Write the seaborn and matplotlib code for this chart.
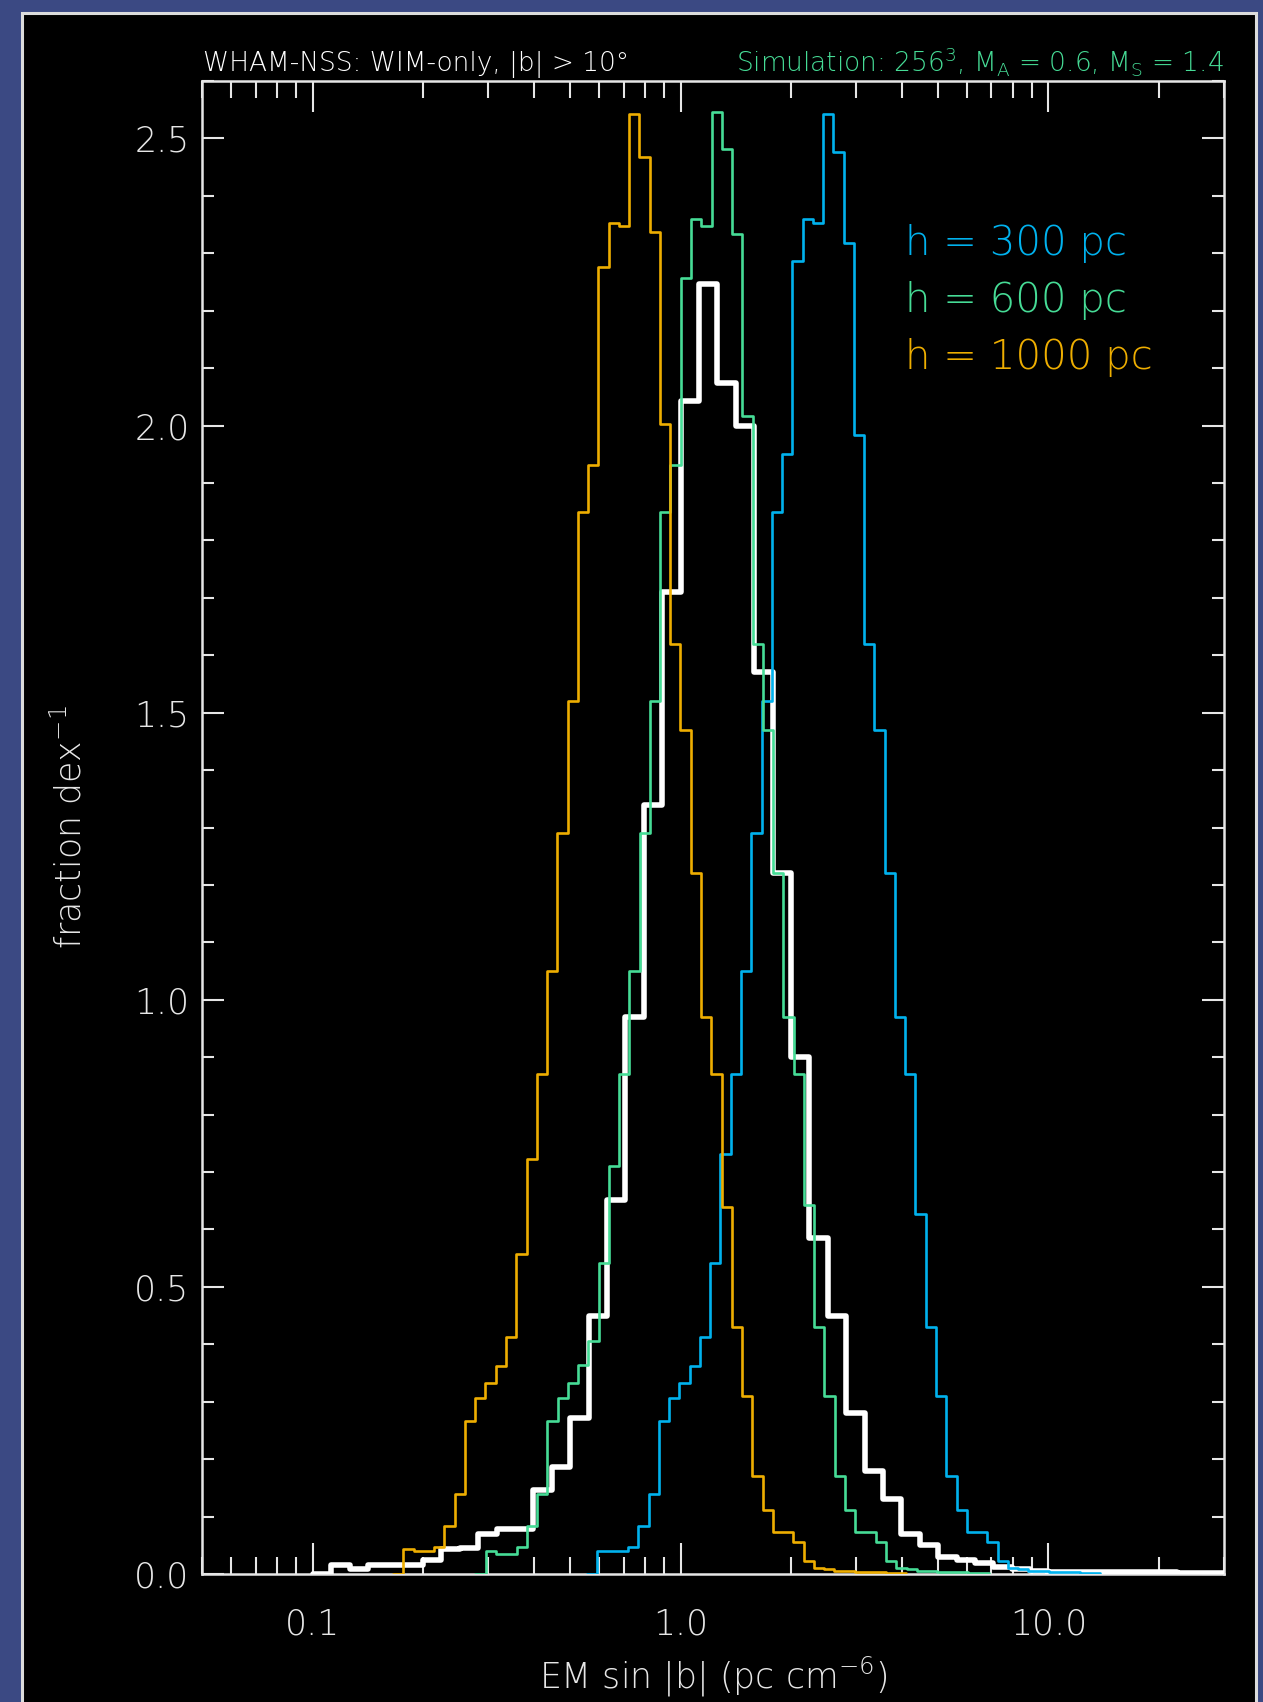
import numpy as np
import matplotlib
matplotlib.use("Agg")
import matplotlib.pyplot as plt
from matplotlib.patches import Rectangle
from matplotlib.ticker import FixedLocator, FixedFormatter, LogLocator, NullFormatter, MultipleLocator
import seaborn as sns

# ---------------------------------------------------------------------------
# Histogram heights (fraction per dex) of EM sin|b|.
# Model histograms share one log10 bin width; each list starts at its own
# first bin edge (log10 of EM sin|b| in pc cm^-6).
# ---------------------------------------------------------------------------
model_bin_dex = 0.0279

h300_first_edge = -0.2264
h300_frac = [0.04, 0.04, 0.04, 0.047, 0.084, 0.14, 0.266, 0.306, 0.333, 0.362,
             0.413, 0.542, 0.732, 0.87, 1.05, 1.29, 1.52, 1.85, 1.951, 2.286,
             2.360, 2.352, 2.542, 2.477, 2.318, 1.984, 1.62, 1.47, 1.22, 0.97,
             0.87, 0.627, 0.43, 0.31, 0.17, 0.111, 0.073, 0.073, 0.055, 0.023,
             0.01, 0.008, 0.006, 0.005, 0.004, 0.003, 0.003, 0.002, 0.002]

h600_first_edge = -0.5298
h600_frac = [0.04, 0.035, 0.035, 0.047, 0.084, 0.14, 0.266, 0.306, 0.333, 0.364,
             0.406, 0.542, 0.711, 0.87, 1.05, 1.29, 1.52, 1.85, 1.932, 2.257,
             2.360, 2.347, 2.546, 2.481, 2.333, 2.017, 1.62, 1.47, 1.22, 0.97,
             0.87, 0.642, 0.43, 0.31, 0.17, 0.111, 0.073, 0.073, 0.055, 0.023,
             0.01, 0.008, 0.006, 0.005, 0.004, 0.003, 0.003, 0.002, 0.002]

h1000_first_edge = -0.7537
h1000_frac = [0.043, 0.04, 0.04, 0.047, 0.084, 0.14, 0.266, 0.306, 0.333, 0.362,
              0.413, 0.557, 0.723, 0.87, 1.05, 1.29, 1.52, 1.85, 1.932, 2.276,
              2.352, 2.347, 2.542, 2.468, 2.337, 2.003, 1.62, 1.47, 1.22, 0.97,
              0.87, 0.639, 0.43, 0.31, 0.17, 0.111, 0.073, 0.073, 0.055, 0.023,
              0.01, 0.008, 0.006, 0.005, 0.004, 0.003, 0.003, 0.002, 0.002]

# WHAM-NSS observed distribution, 0.05 dex bins
wham_bin_dex = 0.05
wham_first_edge = -0.95
wham_frac = [0.015, 0.009, 0.015, 0.015, 0.015, 0.024, 0.043, 0.046, 0.069, 0.078,
             0.078, 0.147, 0.186, 0.272, 0.449, 0.651, 0.97, 1.34, 1.71, 2.042,
             2.247, 2.074, 1.999, 1.57, 1.22, 0.90, 0.585, 0.45, 0.28, 0.18,
             0.13, 0.07, 0.05, 0.03, 0.025, 0.02, 0.012, 0.008, 0.005, 0.004,
             0.004, 0.003, 0.003, 0.003, 0.003, 0.003, 0.002, 0.002, 0.002, 0.002]

x_ticks = [0.1, 1.0, 10.0]
x_tick_labels = ["0.1", "1.0", "10.0"]
y_ticks = [0.0, 0.5, 1.0, 1.5, 2.0, 2.5]
y_tick_labels = ["0.0", "0.5", "1.0", "1.5", "2.0", "2.5"]

legend_labels = ["h = 300 pc", "h = 600 pc", "h = 1000 pc"]

# colours
BLUE = "#00b2ee"
GREEN = "#46dc96"
ORANGE = "#eeae00"
WHITE = "#ffffff"
SLIDE = "#3b4983"

W, H = 1263, 1702
sns.set_style("ticks")
plt.rcParams["font.family"] = ["DejaVu Sans"]
plt.rcParams["font.weight"] = "light"
plt.rcParams["axes.labelweight"] = "light"
plt.rcParams["mathtext.default"] = "regular"

fig = plt.figure(figsize=(W / 100, H / 100), dpi=100, facecolor=SLIDE)

# black panel with a thin light frame, kept behind the axes
fig.patches.append(Rectangle((22 / W, -0.02), (1256 - 22) / W, 1.02 - 13 / H,
                             transform=fig.transFigure, facecolor="black",
                             edgecolor="#dcdcdc", linewidth=2.2, zorder=-5))

ax = fig.add_axes([202 / W, 1 - 1574 / H, (1224 - 202) / W, (1574 - 81) / H])
ax.set_facecolor("black")


def draw_hist(first_edge, bin_dex, frac, color, lw, z):
    vals = np.asarray([0.0] + list(frac))
    edges = first_edge - bin_dex + bin_dex * np.arange(len(vals) + 1)
    centers = 10 ** (0.5 * (edges[:-1] + edges[1:]))
    sns.histplot(x=centers, weights=vals, bins=list(edges), log_scale=True,
                 element="step", fill=False, color=color, linewidth=lw,
                 ax=ax, zorder=z)


draw_hist(wham_first_edge, wham_bin_dex, wham_frac, WHITE, 4.0, 3)
draw_hist(h300_first_edge, model_bin_dex, h300_frac, BLUE, 1.9, 4)
draw_hist(h600_first_edge, model_bin_dex, h600_frac, GREEN, 1.9, 5)
draw_hist(h1000_first_edge, model_bin_dex, h1000_frac, ORANGE, 1.9, 6)

ax.set_xscale("log")
ax.set_xlim(0.05, 30)
ax.set_ylim(0, 2.6)

ax.xaxis.set_major_locator(FixedLocator(x_ticks))
ax.xaxis.set_major_formatter(FixedFormatter(x_tick_labels))
ax.xaxis.set_minor_locator(LogLocator(base=10, subs=np.arange(2, 10)))
ax.xaxis.set_minor_formatter(NullFormatter())
ax.yaxis.set_major_locator(FixedLocator(y_ticks))
ax.yaxis.set_major_formatter(FixedFormatter(y_tick_labels))
ax.yaxis.set_minor_locator(MultipleLocator(0.1))

for s in ax.spines.values():
    s.set_color("#e6e6e6")
    s.set_linewidth(1.8)

ax.tick_params(which="both", direction="in", top=True, right=True,
               color="#e6e6e6", labelcolor="#e6e6e6", width=1.5, labelsize=25)
ax.tick_params(axis="x", which="major", length=22, pad=24)
ax.tick_params(axis="x", which="minor", length=12)
ax.tick_params(axis="y", which="major", length=16, pad=9)
ax.tick_params(axis="y", which="minor", length=8.5)
ax.grid(False)

ax.set_xlabel(r"EM sin |b| (pc cm$^{-6}$)", color="#e6e6e6", fontsize=25,
              fontweight="light")
ax.set_ylabel(r"fraction dex$^{-1}$", color="#e6e6e6", fontsize=25,
              fontweight="light")
ax.xaxis.set_label_coords(0.5, (1574 - 1677) / (1574 - 81))
ax.xaxis.label.set_va("center")
ax.yaxis.set_label_coords((70 - 202) / (1224 - 202), 0.5)
ax.yaxis.label.set_va("center")

# header lines
fig.text(203 / W, 1 - 71 / H, "WHAM-NSS: WIM-only, |b| > 10°", color=WHITE,
         fontsize=19, ha="left", va="baseline")
fig.text(1224 / W, 1 - 71 / H,
         r"Simulation: 256$^3$, M$_A$ = 0.6, M$_S$ = 1.4", color=GREEN,
         fontsize=19, ha="right", va="baseline")

# coloured labels for the model curves
for lab, col, yb in zip(legend_labels, [BLUE, GREEN, ORANGE], [255, 312, 369]):
    fig.text(905 / W, 1 - yb / H, lab, color=col, fontsize=29,
             ha="left", va="baseline")

fig.savefig("out.png", dpi=100, facecolor=SLIDE)
